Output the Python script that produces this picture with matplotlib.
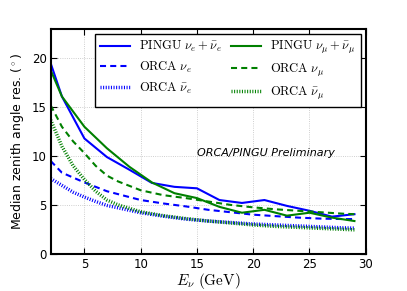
import matplotlib
matplotlib.use("Agg")
import matplotlib.pyplot as plt

# PINGU (solid)
x_pingu = [2, 3, 5, 7, 9, 11, 13, 15, 17, 19, 21, 23, 25, 27, 29]
pingu_e = [19.5, 16.1, 11.8, 9.9, 8.6, 7.25, 6.85, 6.7, 5.5, 5.2, 5.5, 4.9, 4.4, 3.8, 4.05]
pingu_mu = [18.8, 16.1, 13.0, 10.8, 8.9, 7.3, 6.2, 5.7, 4.8, 4.2, 4.5, 3.9, 4.2, 3.7, 3.35]

# ORCA (dashed / dotted)
x_orca = [2, 3, 4, 5, 6, 7, 8, 10, 12, 14, 16, 18, 20, 22, 24, 26, 28, 29]
orca_nue = [9.5, 8.3, 7.8, 7.3, 6.85, 6.4, 6.1, 5.5, 5.15, 4.85, 4.5, 4.25, 4.0, 3.85, 3.7, 3.6, 3.55, 3.55]
orca_nuebar = [7.7, 7.0, 6.3, 5.8, 5.35, 4.95, 4.7, 4.2, 3.85, 3.55, 3.35, 3.2, 3.05, 2.95, 2.85, 2.75, 2.65, 2.62]
orca_numu = [15.2, 13.0, 11.5, 10.3, 9.0, 8.0, 7.4, 6.5, 6.0, 5.7, 5.35, 5.0, 4.75, 4.55, 4.4, 4.25, 4.1, 4.05]
orca_numubar = [13.7, 11.0, 9.0, 7.6, 6.4, 5.5, 5.0, 4.3, 3.9, 3.6, 3.35, 3.15, 2.95, 2.8, 2.7, 2.6, 2.5, 2.45]

labels = [r'$\mathrm{PINGU}\ \nu_e+\bar{\nu}_e$', r'$\mathrm{ORCA}\ \nu_e$', r'$\mathrm{ORCA}\ \bar{\nu}_e$',
          r'$\mathrm{PINGU}\ \nu_\mu+\bar{\nu}_\mu$', r'$\mathrm{ORCA}\ \nu_\mu$', r'$\mathrm{ORCA}\ \bar{\nu}_\mu$']

plt.rcParams['mathtext.fontset'] = 'cm'
plt.rcParams['font.family'] = ['DejaVu Sans']

BLUE = '#0000ff'
GREEN = '#008000'
dashed = (0, (2.9, 2.0))
dotted = (0, (0.3, 0.45))

fig = plt.figure(figsize=(4.07, 2.91), dpi=100)
ax = fig.add_axes([0.1245, 0.128, 0.774, 0.772])

ax.plot(x_pingu, pingu_e, color=BLUE, lw=1.5, ls='-', label=labels[0])
ax.plot(x_orca, orca_nue, color=BLUE, lw=1.5, ls=dashed, label=labels[1])
ax.plot(x_orca, orca_nuebar, color=BLUE, lw=2.5, ls=dotted, label=labels[2])
ax.plot(x_pingu, pingu_mu, color=GREEN, lw=1.5, ls='-', label=labels[3])
ax.plot(x_orca, orca_numu, color=GREEN, lw=1.5, ls=dashed, label=labels[4])
ax.plot(x_orca, orca_numubar, color=GREEN, lw=2.5, ls=dotted, label=labels[5])

ax.set_xlim(2, 30)
ax.set_ylim(0, 23)
ax.set_xticks([5, 10, 15, 20, 25, 30])
ax.set_yticks([0, 5, 10, 15, 20])
ax.tick_params(direction='in', top=True, right=True, labelsize=8.5, length=4, width=0.8, pad=3)
ax.grid(True, color='0.75', ls=':', lw=0.6)
for s in ax.spines.values():
    s.set_linewidth(1.5)

ax.set_xlabel(r'$E_\nu\ \mathrm{(GeV)}$', fontsize=11, labelpad=0)
ax.set_ylabel(r'Median zenith angle res. ($^\circ$)', fontsize=9, labelpad=4)

ax.text(21.15, 10.3, 'ORCA/PINGU Preliminary', fontsize=8, style='italic', ha='center', va='center')

leg = ax.legend(loc='upper right', ncol=2, fontsize=9, frameon=True, fancybox=False,
                edgecolor='black', framealpha=1, handlelength=2.4, handletextpad=0.75,
                columnspacing=0.7, labelspacing=0.45, borderaxespad=0.4, borderpad=0.4)
leg.get_frame().set_linewidth(1.0)

fig.savefig('out.png', dpi=100)
